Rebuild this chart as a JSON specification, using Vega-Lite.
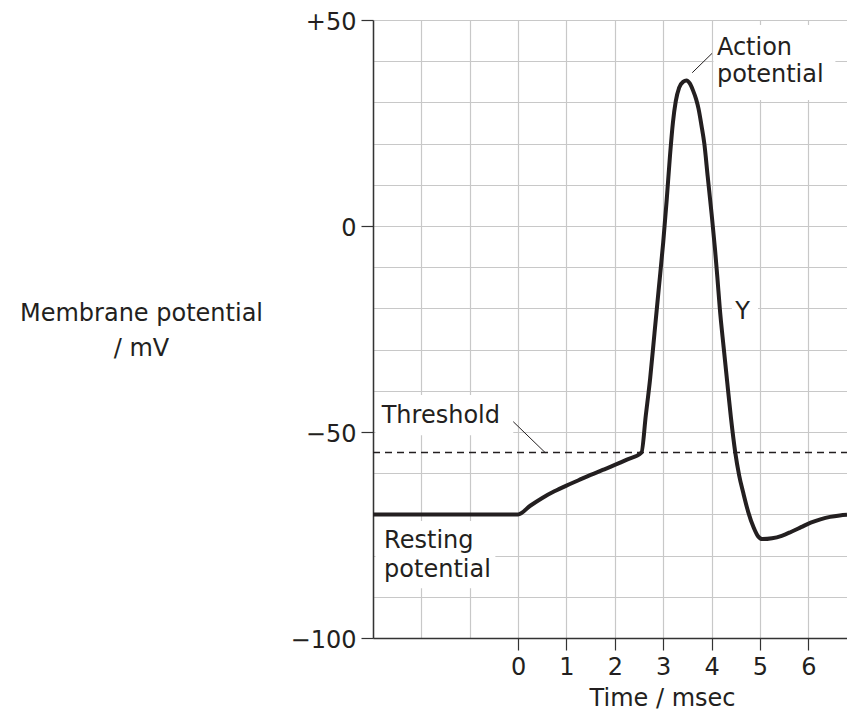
{
  "$schema": "https://vega.github.io/schema/vega-lite/v6.json",
  "width": 474,
  "height": 618,
  "autosize": "none",
  "padding": {"left": 373, "top": 20, "right": 0, "bottom": 87},
  "background": "white",
  "config": {"view": {"stroke": null}, "font": "DejaVu Sans"},
  "datasets": {
    "curve": [
      {"t": -3, "v": -70}, {"t": 0, "v": -70},
      {"t": 0.25, "v": -67.9}, {"t": 0.5, "v": -66}, {"t": 0.75, "v": -64.4}, {"t": 1, "v": -63},
      {"t": 1.25, "v": -61.7}, {"t": 1.5, "v": -60.4}, {"t": 1.75, "v": -59.2}, {"t": 2, "v": -58},
      {"t": 2.25, "v": -56.7}, {"t": 2.55, "v": -55},
      {"t": 2.64, "v": -46}, {"t": 2.73, "v": -37}, {"t": 2.82, "v": -26}, {"t": 2.91, "v": -15},
      {"t": 3.0, "v": -4}, {"t": 3.07, "v": 6}, {"t": 3.14, "v": 17}, {"t": 3.2, "v": 25},
      {"t": 3.26, "v": 30.3}, {"t": 3.33, "v": 33.6}, {"t": 3.41, "v": 35}, {"t": 3.48, "v": 35.3},
      {"t": 3.55, "v": 34.6}, {"t": 3.62, "v": 32.8}, {"t": 3.68, "v": 30.8}, {"t": 3.73, "v": 28.5},
      {"t": 3.79, "v": 24.5}, {"t": 3.85, "v": 20}, {"t": 3.92, "v": 12}, {"t": 4.0, "v": 3},
      {"t": 4.07, "v": -5.5}, {"t": 4.12, "v": -12.5}, {"t": 4.17, "v": -20}, {"t": 4.25, "v": -29.5},
      {"t": 4.32, "v": -37.5}, {"t": 4.4, "v": -46.5}, {"t": 4.49, "v": -55}, {"t": 4.57, "v": -60.5},
      {"t": 4.66, "v": -65}, {"t": 4.76, "v": -69.5}, {"t": 4.87, "v": -73.2}, {"t": 4.96, "v": -75.3},
      {"t": 5.05, "v": -76}, {"t": 5.25, "v": -75.8}, {"t": 5.45, "v": -75.2}, {"t": 5.65, "v": -74.2},
      {"t": 5.85, "v": -73.1}, {"t": 6.05, "v": -72.0}, {"t": 6.25, "v": -71.2}, {"t": 6.45, "v": -70.6},
      {"t": 6.65, "v": -70.25}, {"t": 6.8, "v": -70.1}
    ],
    "boxes": [
      {"t": 4.04, "t2": 6.56, "v": 48.8, "v2": 30.6},
      {"t": -2.95, "t2": -0.1, "v": -41, "v2": -50.8},
      {"t": -2.95, "t2": -0.47, "v": -71.6, "v2": -87.9},
      {"t": 4.42, "t2": 4.96, "v": -14, "v2": -25}
    ],
    "threshold": [{"t": -3, "t2": 6.8, "v": -55}],
    "leaders": [
      {"t": 4.01, "t2": 3.6, "v": 41.9, "v2": 37.2},
      {"t": -0.1, "t2": 0.56, "v": -47.5, "v2": -55}
    ],
    "labels": [
      {"t": 4.11, "v": 41.5, "label": "Action"},
      {"t": 4.11, "v": 35.0, "label": "potential"},
      {"t": -2.82, "v": -47.9, "label": "Threshold"},
      {"t": -2.77, "v": -78.2, "label": "Resting"},
      {"t": -2.77, "v": -85.1, "label": "potential"},
      {"t": 4.49, "v": -22.6, "label": "Y"}
    ]
  },
  "layer": [
    {
      "data": {"name": "boxes"},
      "mark": {"type": "rect", "color": "white", "stroke": null},
      "encoding": {
        "x": {
          "field": "t", "type": "quantitative",
          "scale": {"domain": [-3, 6.8], "nice": false, "zero": false},
          "axis": {
            "values": [-3, -2, -1, 0, 1, 2, 3, 4, 5, 6],
            "labelExpr": "datum.value >= 0 ? datum.label : ''",
            "tickOpacity": {"condition": {"test": "datum.value < 0", "value": 0}, "value": 1},
            "tickSize": 12, "tickColor": "#333333", "tickWidth": 1.2,
            "domainColor": "#333333", "domainWidth": 1.5,
            "grid": true, "gridColor": "#c8c8c8", "gridWidth": 1.2,
            "labelFontSize": 24, "labelColor": "#231f20", "labelPadding": 5,
            "labelFlush": false, "labelOverlap": false, "labelBound": false,
            "title": "Time / msec", "titleFontSize": 24, "titleFontWeight": "normal",
            "titleColor": "#231f20", "titleX": 289, "titleY": 67,
            "titleAlign": "center", "titleBaseline": "alphabetic"
          }
        },
        "x2": {"field": "t2"},
        "y": {
          "field": "v", "type": "quantitative",
          "scale": {"domain": [-100, 50], "nice": false, "zero": false},
          "axis": {
            "values": [-100, -90, -80, -70, -60, -50, -40, -30, -20, -10, 0, 10, 20, 30, 40, 50],
            "labelExpr": "datum.value == 50 ? '+50' : datum.value == 0 ? '0' : datum.value == -50 ? '\u221250' : datum.value == -100 ? '\u2212100' : ''",
            "tickOpacity": {"condition": {"test": "datum.value % 50 != 0", "value": 0}, "value": 1},
            "tickSize": 12, "tickColor": "#333333", "tickWidth": 1.2,
            "domainColor": "#333333", "domainWidth": 1.5,
            "grid": true, "gridColor": "#c8c8c8", "gridWidth": 1.2,
            "labelFontSize": 24, "labelColor": "#231f20", "labelPadding": 5, "labelOffset": 2,
            "labelFlush": false, "labelOverlap": false, "labelBound": false,
            "title": ["Membrane potential", "/ mV"], "titleFontSize": 24, "titleFontWeight": "normal",
            "titleColor": "#231f20", "titleAngle": 0, "titleX": -232, "titleY": 300,
            "titleAlign": "center", "titleBaseline": "alphabetic", "titleLineHeight": 35
          }
        },
        "y2": {"field": "v2"}
      }
    },
    {
      "data": {"name": "threshold"},
      "mark": {"type": "rule", "color": "#231f20", "strokeWidth": 1.5, "strokeDash": [7, 5]},
      "encoding": {
        "x": {"field": "t", "type": "quantitative"},
        "x2": {"field": "t2"},
        "y": {"field": "v", "type": "quantitative"}
      }
    },
    {
      "data": {"name": "leaders"},
      "mark": {"type": "rule", "color": "#231f20", "strokeWidth": 1},
      "encoding": {
        "x": {"field": "t", "type": "quantitative"},
        "x2": {"field": "t2"},
        "y": {"field": "v", "type": "quantitative"},
        "y2": {"field": "v2"}
      }
    },
    {
      "data": {"name": "curve"},
      "mark": {"type": "line", "color": "#231f20", "strokeWidth": 4, "interpolate": "monotone", "strokeJoin": "round", "strokeCap": "butt"},
      "encoding": {
        "x": {"field": "t", "type": "quantitative"},
        "y": {"field": "v", "type": "quantitative"}
      }
    },
    {
      "data": {"name": "labels"},
      "mark": {"type": "text", "align": "left", "baseline": "alphabetic", "fontSize": 24, "color": "#231f20"},
      "encoding": {
        "x": {"field": "t", "type": "quantitative"},
        "y": {"field": "v", "type": "quantitative"},
        "text": {"field": "label", "type": "nominal"}
      }
    }
  ]
}
